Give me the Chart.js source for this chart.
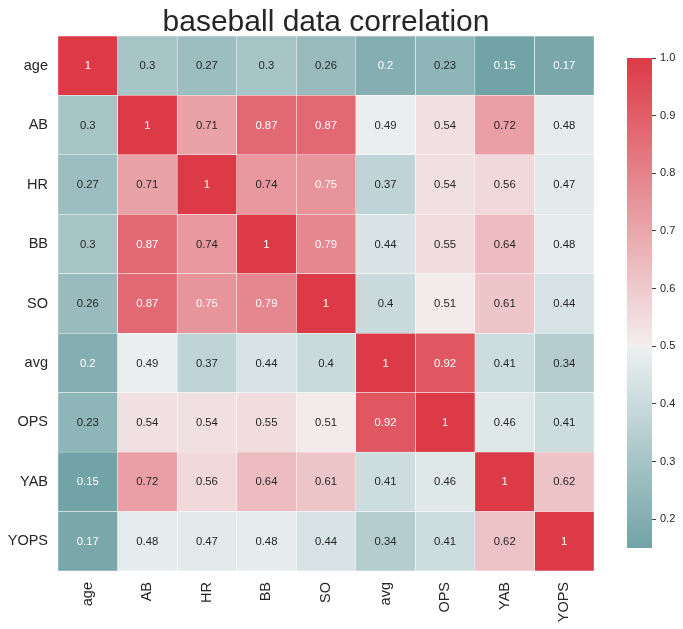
<!DOCTYPE html>
<html><head><meta charset="utf-8">
<script src="https://cdn.jsdelivr.net/npm/chart.js@4.4.1/dist/chart.umd.min.js"></script>
<style>
html,body{margin:0;padding:0;background:#fff;}
#wrap{position:relative;width:683px;height:629px;overflow:hidden;}
#main{position:absolute;left:0;top:0;}
#cbar{position:absolute;left:600px;top:0;}
</style></head><body>
<div id="wrap">
<canvas id="main" width="652" height="629" style="width:652px;height:629px"></canvas>
<canvas id="cbar" width="83" height="629" style="width:83px;height:629px"></canvas>
</div>
<script>
// ---- data ----
const titleText = "baseball data correlation";
const rowLabels = ["age", "AB", "HR", "BB", "SO", "avg", "OPS", "YAB", "YOPS"];
const colLabels = ["age", "AB", "HR", "BB", "SO", "avg", "OPS", "YAB", "YOPS"];
const rowAge  = [1, 0.3, 0.27, 0.3, 0.26, 0.2, 0.23, 0.15, 0.17];
const rowAB   = [0.3, 1, 0.71, 0.87, 0.87, 0.49, 0.54, 0.72, 0.48];
const rowHR   = [0.27, 0.71, 1, 0.74, 0.75, 0.37, 0.54, 0.56, 0.47];
const rowBB   = [0.3, 0.87, 0.74, 1, 0.79, 0.44, 0.55, 0.64, 0.48];
const rowSO   = [0.26, 0.87, 0.75, 0.79, 1, 0.4, 0.51, 0.61, 0.44];
const rowAvg  = [0.2, 0.49, 0.37, 0.44, 0.4, 1, 0.92, 0.41, 0.34];
const rowOPS  = [0.23, 0.54, 0.54, 0.55, 0.51, 0.92, 1, 0.46, 0.41];
const rowYAB  = [0.15, 0.72, 0.56, 0.64, 0.61, 0.41, 0.46, 1, 0.62];
const rowYOPS = [0.17, 0.48, 0.47, 0.48, 0.44, 0.34, 0.41, 0.62, 1];
const cbarTicks = [0.2, 0.3, 0.4, 0.5, 0.6, 0.7, 0.8, 0.9, 1.0];
const vmin = 0.15, vmax = 1.0;

const matrix = [rowAge, rowAB, rowHR, rowBB, rowSO, rowAvg, rowOPS, rowYAB, rowYOPS];

// ---- style ----
const FAMILY = '"Liberation Sans", Arial, Helvetica, sans-serif';
const TXT = '#262626';
const cmapStops = [
  [0.15, [114, 163, 166]],
  [0.497, [236, 240, 241]],
  [0.5, [242, 242, 242]],
  [0.503, [243, 237, 238]],
  [1.0, [220, 58, 71]]
];
function cmap(v) {
  if (v <= cmapStops[0][0]) return cmapStops[0][1];
  for (let k = 1; k < cmapStops.length; k++) {
    const [p1, c1] = cmapStops[k];
    const [p0, c0] = cmapStops[k - 1];
    if (v <= p1) {
      const t = (v - p0) / (p1 - p0);
      return c0.map((c, i) => c + (c1[i] - c) * t);
    }
  }
  return cmapStops[cmapStops.length - 1][1];
}
const rgbStr = c => `rgb(${c.map(x => Math.round(x)).join(',')})`;
function lum(c) {
  const l = c.map(x => { x /= 255; return x <= 0.03928 ? x / 12.92 : Math.pow((x + 0.055) / 1.055, 2.4); });
  return 0.2126 * l[0] + 0.7152 * l[1] + 0.0722 * l[2];
}
const textColor = v => lum(cmap(v)) > 0.408 ? TXT : '#ffffff';

// ---- heatmap ----
const datasets = colLabels.map((c, j) => ({
  label: c,
  data: rowLabels.map(() => [j, j + 1]),
  backgroundColor: rowLabels.map((r, i) => rgbStr(cmap(matrix[i][j]))),
  borderColor: '#ffffff',
  borderWidth: 0.5,
  borderSkipped: false,
  grouped: false,
  barPercentage: 1,
  categoryPercentage: 1
}));

const annot = {
  id: 'annot',
  afterDatasetsDraw(chart) {
    const ctx = chart.ctx;
    ctx.save();
    ctx.font = `11.3px ${FAMILY}`;
    ctx.textAlign = 'center';
    ctx.textBaseline = 'middle';
    chart.data.datasets.forEach((ds, j) => {
      chart.getDatasetMeta(j).data.forEach((el, i) => {
        const v = matrix[i][j];
        ctx.fillStyle = textColor(v);
        ctx.fillText(String(v), (el.x + el.base) / 2, el.y + 0.5);
      });
    });
    ctx.restore();
  }
};

// title centred over the heatmap area
const heatTitle = {
  id: 'heatTitle',
  afterDraw(chart) {
    const ctx = chart.ctx, a = chart.chartArea;
    ctx.save();
    ctx.font = `30px ${FAMILY}`;
    ctx.fillStyle = TXT;
    ctx.textAlign = 'center';
    ctx.textBaseline = 'alphabetic';
    ctx.fillText(titleText, (a.left + a.right) / 2, 30.5);
    ctx.restore();
  }
};

new Chart(document.getElementById('main'), {
  type: 'bar',
  data: { labels: rowLabels, datasets },
  plugins: [annot, heatTitle],
  options: {
    indexAxis: 'y',
    responsive: false,
    animation: false,
    layout: { padding: { left: 0, right: 58, top: 36, bottom: 0 } },
    plugins: {
      legend: { display: false },
      tooltip: { enabled: false },
      title: { display: false }
    },
    scales: {
      x: {
        type: 'linear', min: 0, max: 9, position: 'bottom',
        grid: { display: false, drawTicks: false, tickLength: 0 },
        border: { display: false },
        afterBuildTicks: ax => { ax.ticks = colLabels.map((_, j) => ({ value: j + 0.5 })); },
        ticks: {
          autoSkip: false, maxRotation: 90, minRotation: 90, padding: 11,
          color: TXT, font: { size: 14.5, family: FAMILY },
          callback: (v, i) => colLabels[i]
        },
        afterFit: s => { s.height = 58; }
      },
      y: {
        type: 'category',
        grid: { display: false, drawTicks: false, tickLength: 0 },
        border: { display: false },
        ticks: { padding: 10, color: TXT, font: { size: 14.5, family: FAMILY } },
        afterFit: s => { s.width = 58; }
      }
    }
  }
});

// ---- colorbar ----
function cbarGradient(context) {
  const chart = context.chart;
  const area = chart.chartArea;
  if (!area) return rgbStr(cmap(0.5));
  const g = chart.ctx.createLinearGradient(0, area.bottom, 0, area.top);
  cmapStops.forEach(([v, c]) => {
    const p = Math.min(1, Math.max(0, (v - vmin) / (vmax - vmin)));
    g.addColorStop(p, rgbStr(c));
  });
  return g;
}

new Chart(document.getElementById('cbar'), {
  type: 'bar',
  data: { labels: [''], datasets: [{ data: [[vmin, vmax]], backgroundColor: cbarGradient, borderWidth: 0, barPercentage: 1, categoryPercentage: 1 }] },
  options: {
    responsive: false,
    animation: false,
    layout: { padding: { top: 58, bottom: 81, left: 27, right: 0 } },
    plugins: { legend: { display: false }, tooltip: { enabled: false } },
    scales: {
      x: { display: false },
      y: {
        type: 'linear', position: 'right', min: vmin, max: vmax,
        afterBuildTicks: ax => { ax.ticks = cbarTicks.map(v => ({ value: v })); },
        grid: { drawOnChartArea: false, drawTicks: true, tickLength: 4, color: TXT, lineWidth: 0.9 },
        border: { display: false },
        ticks: { padding: 4, color: TXT, font: { size: 11, family: FAMILY }, callback: v => Number(v).toFixed(1) },
        afterFit: s => { s.width = 31; }
      }
    }
  }
});
</script>
</body></html>
